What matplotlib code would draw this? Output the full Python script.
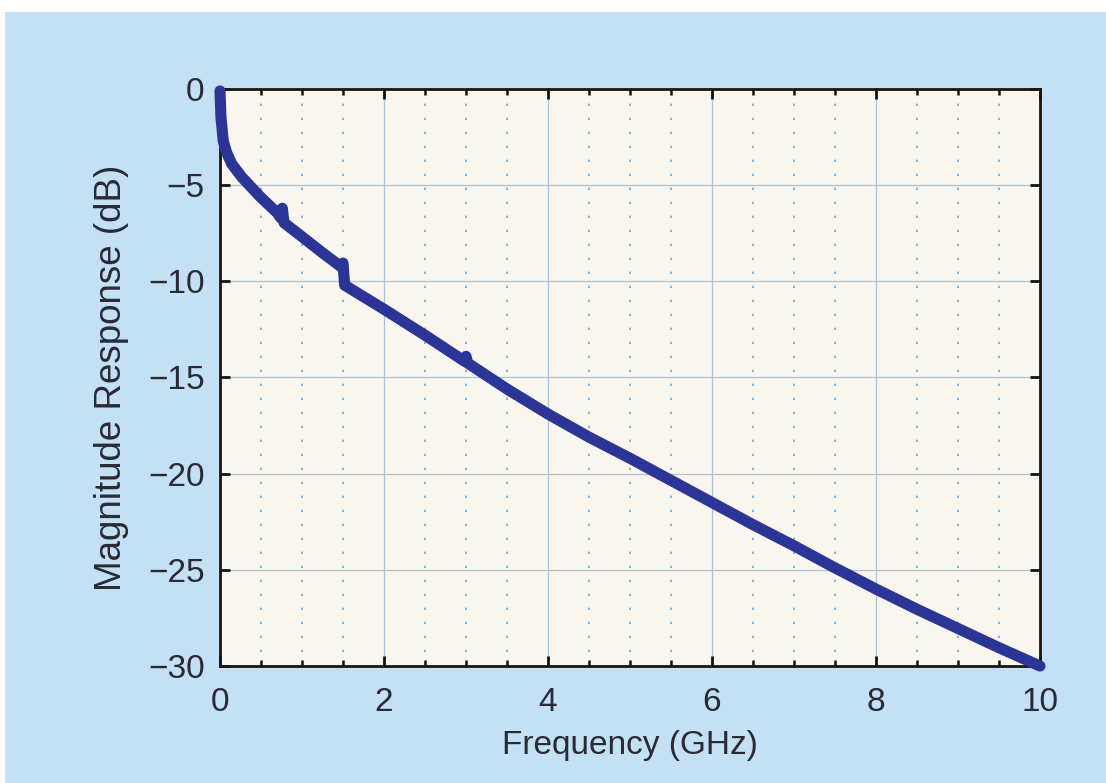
import matplotlib
matplotlib.use("Agg")
import matplotlib.pyplot as plt
from matplotlib.patches import Rectangle
from matplotlib.ticker import MultipleLocator

plt.rcParams['font.family'] = ['Liberation Sans', 'DejaVu Sans']

# Data
freq_ghz = [0.0, 0.012, 0.04, 0.08, 0.144, 0.27, 0.49, 0.70, 0.74, 0.76, 0.78,
            1.00, 1.26, 1.48, 1.50, 1.52, 1.75, 2.00, 2.50, 2.98, 3.00, 3.02,
            3.50, 4.00, 4.50, 5.00, 5.50, 6.00, 6.50, 7.00, 7.50, 8.00, 8.50,
            9.00, 9.50, 10.0]
mag_db = [-0.1, -1.5, -2.7, -3.3, -3.9, -4.6, -5.6, -6.45, -6.7, -6.2, -6.95,
          -7.68, -8.55, -9.25, -9.05, -10.2, -10.8, -11.45, -12.8, -14.15, -13.9, -14.25,
          -15.6, -16.9, -18.1, -19.2, -20.35, -21.5, -22.65, -23.75, -24.9, -26.0, -27.05,
          -28.05, -29.05, -30.0]

x_ticks = [0, 2, 4, 6, 8, 10]
y_ticks = [-30, -25, -20, -15, -10, -5, 0]

W, H = 1106, 783
fig = plt.figure(figsize=(W / 100, H / 100), dpi=100, facecolor='#c3e0f5')

# white paper margins of the scanned page
fig.patches.append(Rectangle((0, 1 - 12 / H), 1, 12 / H, transform=fig.transFigure,
                             facecolor='white', edgecolor='none', zorder=0))
fig.patches.append(Rectangle((0, 0), 5 / W, 1, transform=fig.transFigure,
                             facecolor='white', edgecolor='none', zorder=0))

ax = fig.add_axes([220 / W, 1 - 666 / H, (1040 - 220) / W, (666 - 89) / H])
ax.set_facecolor('#f8f6ee')

ax.plot(freq_ghz, mag_db, color='#2c3596', lw=8, solid_capstyle='round',
        solid_joinstyle='round', zorder=3, clip_on=False)

ax.set_xlim(0, 10)
ax.set_ylim(-30, 0)
ax.set_xticks(x_ticks)
ax.set_yticks(y_ticks)
ax.set_xticklabels([str(v) for v in x_ticks])
ax.set_yticklabels([('\u2212' + str(-v)) if v < 0 else str(v) for v in y_ticks])
ax.xaxis.set_minor_locator(MultipleLocator(0.5))

ax.grid(True, which='major', axis='both', color='#a9c4d6', lw=0.9, ls='-', zorder=1)
ax.grid(True, which='minor', axis='x', color='#7fb6d8', lw=1.4, ls=(0, (1.2, 6)), zorder=1)
ax.set_axisbelow(True)

for s in ax.spines.values():
    s.set_color('#1c1410')
    s.set_linewidth(2.0)

ax.tick_params(axis='both', which='both', direction='in', top=True, right=True,
               colors='#111111')
ax.tick_params(axis='both', which='major', length=7, width=2.0)
ax.tick_params(axis='x', which='minor', length=4.5, width=1.8)
ax.tick_params(axis='x', which='major', pad=15, labelsize=24, labelcolor='#2a2a35')
ax.tick_params(axis='y', which='major', pad=11, labelsize=24, labelcolor='#2a2a35')

ax.set_xlabel('Frequency (GHz)', fontsize=24, color='#2a2a35', labelpad=9)
ax.set_ylabel('Magnitude Response (dB)', fontsize=26.5, color='#2a2a35', labelpad=14)

fig.savefig('out.png', dpi=100, facecolor=fig.get_facecolor())
